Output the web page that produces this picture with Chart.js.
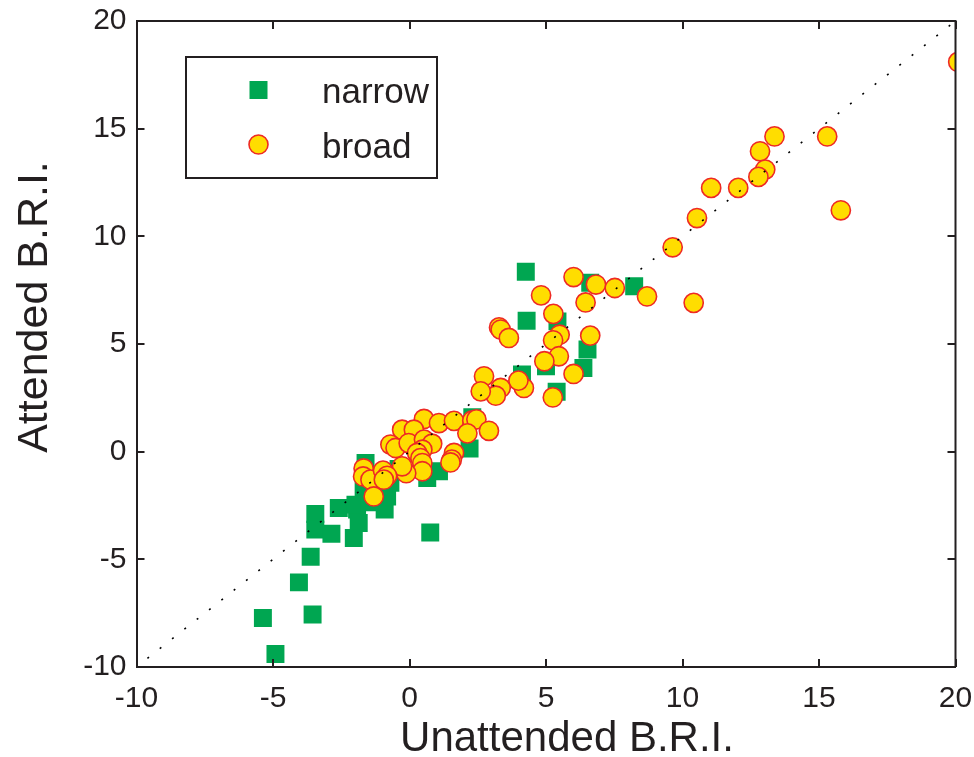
<!DOCTYPE html>
<html><head><meta charset="utf-8">
<script src="https://cdn.jsdelivr.net/npm/chart.js@4.4.1/dist/chart.umd.min.js"></script>
<style>html,body{margin:0;padding:0;background:#fff}#wrap{width:974px;height:757px}</style>
</head><body><div id="wrap"><canvas id="c" width="974" height="757"></canvas></div>
<script>
// ---- data ----
const xTicks = [-10, -5, 0, 5, 10, 15, 20];
const yTicks = [-10, -5, 0, 5, 10, 15, 20];
const seriesNames = ['narrow', 'broad'];
const xTitle = 'Unattended B.R.I.';
const yTitle = 'Attended B.R.I.';

const narrowX = [-4.91, -5.37, -3.55, -4.05, -3.62, 0.76, -3.45, -3.45, -2.86, -2.59, -2.04, -1.92, -1.86, -0.91, -0.91, -1.68, -1.98, -1.45, -0.82, -0.70, -1.61, 0.65, 1.08, 2.20, 2.30, 4.26, 4.29, 8.23, 6.62, 5.42, 6.52, 6.37, 5.00, 4.12, 5.39, -0.40];
const narrowY = [-9.40, -7.72, -7.56, -6.07, -4.88, -3.75, -2.89, -3.62, -3.81, -2.62, -4.01, -2.69, -3.31, -2.69, -1.77, -1.77, -2.46, -2.35, -2.08, -1.45, -0.53, -1.22, -0.91, 0.15, 1.60, 8.36, 6.08, 7.68, 7.84, 6.05, 4.74, 3.89, 3.96, 3.58, 2.78, -0.80];

const broadX = [20.10, 13.37, 15.30, 12.84, 13.03, 12.78, 11.05, 12.04, 10.53, 15.80, 9.64, 10.41, 8.70, 7.52, 6.83, 6.01, 4.82, 6.45, 5.27, 3.28, 3.34, 3.64, 5.50, 5.26, 6.62, 5.47, 4.94, 6.01, 5.25, 4.19, 3.99, 2.73, 3.34, 3.16, 2.61,
  0.53, 1.08, 1.63, 2.30, 2.45, 2.12, 2.91, -0.27, 0.16, -0.70, -0.51, -0.03, 0.53, 0.83, 0.47, 0.28, 0.40, 0.47, 0.47, -0.12, -0.27, 1.63, 1.55, 1.50, -1.68, -1.70, -1.43, -0.97, -0.82, -0.94, -1.31];
const broadY = [18.10, 14.64, 14.64, 13.95, 13.10, 12.76, 12.25, 12.25, 10.85, 11.21, 9.49, 6.91, 7.21, 7.60, 7.76, 8.11, 7.26, 6.93, 6.40, 5.77, 5.67, 5.28, 5.43, 5.17, 5.39, 4.43, 4.20, 3.61, 2.52, 2.96, 3.30, 3.50, 2.96, 2.60, 2.80,
  1.52, 1.33, 1.43, 1.45, 1.50, 0.85, 0.97, 1.02, 1.02, 0.33, 0.17, 0.40, 0.56, 0.37, 0.09, -0.06, -0.30, -0.53, -0.91, -1.00, -0.68, -0.06, -0.37, -0.50, -0.78, -1.15, -1.30, -0.88, -1.12, -1.30, -2.08];

const diagX = [-9.6, 20];   // identity reference line y = x
const diagY = [-9.6, 20];

// ---- style ----
const FONT = "'Liberation Sans', Arial, Helvetica, sans-serif";
const TXT = '#231f20';
const GREEN = '#00a651';
const YELLOW = '#ffdd00';
const RED = '#ee2a24';

const toPts = (xs, ys) => xs.map((x, i) => ({x: x, y: ys[i]}));

const frame = {
  id: 'frame',
  afterDatasetsDraw(chart) {
    const {ctx, chartArea: a, scales: {x, y}} = chart;
    ctx.save();
    ctx.strokeStyle = TXT;
    ctx.lineWidth = 2;
    ctx.beginPath();
    ctx.moveTo(a.left, a.top); ctx.lineTo(a.right, a.top); ctx.lineTo(a.right, a.bottom);
    const L = 8;
    x.ticks.forEach(t => {
      const px = Math.round(x.getPixelForValue(t.value));
      ctx.moveTo(px, a.bottom); ctx.lineTo(px, a.bottom - L);
      ctx.moveTo(px, a.top); ctx.lineTo(px, a.top + L);
    });
    y.ticks.forEach(t => {
      const py = Math.round(y.getPixelForValue(t.value));
      ctx.moveTo(a.left, py); ctx.lineTo(a.left + L, py);
      ctx.moveTo(a.right, py); ctx.lineTo(a.right - L, py);
    });
    ctx.stroke();
    ctx.restore();
  },
  afterDraw(chart) {
    const {ctx} = chart;
    ctx.save();
    ctx.fillStyle = TXT;
    // axis titles
    ctx.textAlign = 'center';
    ctx.textBaseline = 'alphabetic';
    ctx.font = '42px ' + FONT;
    ctx.fillText(xTitle, 567, 751);
    ctx.save();
    ctx.font = '43px ' + FONT;
    ctx.translate(47, 307);
    ctx.rotate(-Math.PI / 2);
    ctx.fillText(yTitle, 0, 0);
    ctx.restore();
    // legend box
    ctx.strokeStyle = TXT;
    ctx.lineWidth = 2;
    ctx.fillStyle = '#fff';
    ctx.fillRect(186, 57, 251, 121);
    ctx.strokeRect(186, 57, 251, 121);
    // legend markers
    ctx.fillStyle = GREEN;
    ctx.fillRect(258.5 - 9, 90 - 9, 18, 18);
    ctx.beginPath();
    ctx.arc(258.5, 144.5, 9.5, 0, Math.PI * 2);
    ctx.fillStyle = YELLOW; ctx.fill();
    ctx.strokeStyle = RED; ctx.lineWidth = 1.6; ctx.stroke();
    // legend text
    ctx.fillStyle = TXT;
    ctx.font = '35px ' + FONT;
    ctx.textAlign = 'left';
    ctx.fillText(chart.data.datasets[0].label, 322, 103);
    ctx.fillText(chart.data.datasets[1].label, 322, 158);
    ctx.restore();
  }
};

const tickFont = {family: FONT, size: 30};

new Chart(document.getElementById('c'), {
  type: 'scatter',
  data: {
    datasets: [
      {label: seriesNames[0], data: toPts(narrowX, narrowY), order: 3,
       pointStyle: 'rect', pointRadius: 12.7, pointHoverRadius: 12.7,
       backgroundColor: GREEN, borderWidth: 0},
      {label: seriesNames[1], data: toPts(broadX, broadY), order: 2,
       pointStyle: 'circle', pointRadius: 9.6, pointHoverRadius: 9.6,
       backgroundColor: YELLOW, borderColor: RED, borderWidth: 1.6},
      {label: 'y = x', data: toPts(diagX, diagY), order: 1, showLine: true,
       pointRadius: 0, borderColor: '#000', borderWidth: 1.6, borderDash: [2, 13.7], fill: false}
    ]
  },
  options: {
    responsive: false, animation: false, devicePixelRatio: 1,
    layout: {padding: {top: 21, right: 18.5, left: 0, bottom: 0}},
    plugins: {legend: {display: false}, tooltip: {enabled: false}},
    scales: {
      x: {type: 'linear', position: 'bottom', min: -10, max: 20,
          afterBuildTicks: s => { s.ticks = xTicks.map(v => ({value: v})); },
          afterFit: s => { s.height = 90; s.paddingLeft = 0; s.paddingRight = 0; },
          grid: {display: false, drawTicks: false},
          border: {display: true, color: TXT, width: 2},
          ticks: {font: tickFont, color: TXT, padding: 14, maxRotation: 0, autoSkip: false},
          title: {display: false, text: xTitle}},
      y: {type: 'linear', position: 'left', min: -10, max: 20,
          afterBuildTicks: s => { s.ticks = yTicks.map(v => ({value: v})); },
          afterFit: s => { s.width = 136.5; s.paddingTop = 0; s.paddingBottom = 0; },
          grid: {display: false, drawTicks: false},
          border: {display: true, color: TXT, width: 2},
          ticks: {font: tickFont, color: TXT, padding: 10, autoSkip: false},
          title: {display: false, text: yTitle}}
    }
  },
  plugins: [frame]
});
</script></body></html>
